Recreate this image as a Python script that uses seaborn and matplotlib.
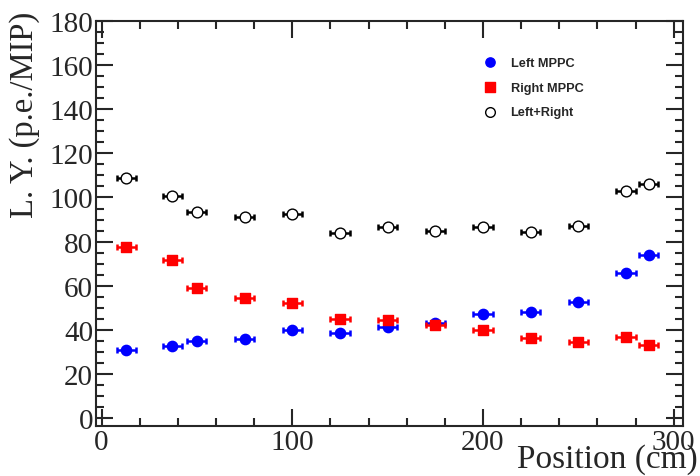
import numpy as np
import pandas as pd
import matplotlib
matplotlib.use('Agg')
import matplotlib.pyplot as plt
from matplotlib.ticker import MultipleLocator
import seaborn as sns

# positions along the bar (cm)
position = [13, 37, 50, 75, 100, 125, 150, 175, 200, 225, 250, 275, 287]
left_mppc = [31, 32.5, 35, 36, 40, 38.5, 41.5, 43, 47, 48, 52.5, 66, 74]
right_mppc = [77.5, 71.5, 59, 54.5, 52, 45, 44.5, 42, 40, 36.5, 34.5, 37, 33]
left_right = [109, 100.5, 93.5, 91, 92.5, 84, 86.5, 85, 86.5, 84.5, 87, 103, 106]
pos_err = 5

sns.set_style('ticks')
plt.rcParams['font.family'] = ['Liberation Serif', 'DejaVu Serif']

fig = plt.figure(figsize=(7, 4.77), dpi=100)
ax = fig.add_axes([0.137, 0.105, 0.839, 0.849])

series = [
    ('Left MPPC', left_mppc, 'o', 'blue', 'blue', 55),
    ('Right MPPC', right_mppc, 's', 'red', 'red', 60),
    ('Left+Right', left_right, 'o', 'black', 'white', 60),
]

for name, vals, mk, col, face, size in series:
    df = pd.DataFrame({'x': position, 'y': vals})
    ax.errorbar(df['x'], df['y'], xerr=pos_err, fmt='none', ecolor=col,
                elinewidth=1.8, capsize=2, capthick=1.8, zorder=2)
    sns.scatterplot(data=df, x='x', y='y', marker=mk, color=face, edgecolor=col,
                    linewidth=1.0, s=size, ax=ax, zorder=3, label=name)

ax.set_xlim(-3, 305)
ax.set_ylim(-3.5, 180)
ax.xaxis.set_major_locator(MultipleLocator(100))
ax.xaxis.set_minor_locator(MultipleLocator(20))
ax.yaxis.set_major_locator(MultipleLocator(20))
ax.yaxis.set_minor_locator(MultipleLocator(5))
ax.tick_params(which='both', direction='in', top=True, right=True,
               labelsize=21, width=1.5, pad=2)
ax.tick_params(which='major', length=12)
ax.tick_params(which='minor', length=6)
for sp in ax.spines.values():
    sp.set_linewidth(1.5)

ax.set_xlabel('Position (cm)', fontsize=24, loc='right')
ax.xaxis.set_label_coords(1.025, -0.042)
ax.set_ylabel('L. Y. (p.e./MIP)', fontsize=23.5, loc='top')
ax.yaxis.set_label_coords(-0.095, 1.025)

leg = ax.legend(loc='upper left', bbox_to_anchor=(0.63, 0.94), frameon=False,
                prop={'family': 'Liberation Sans', 'weight': 'bold', 'size': 9.2},
                handletextpad=0.6, labelspacing=1.0, markerscale=0.9)

fig.savefig('out.png', dpi=100)
